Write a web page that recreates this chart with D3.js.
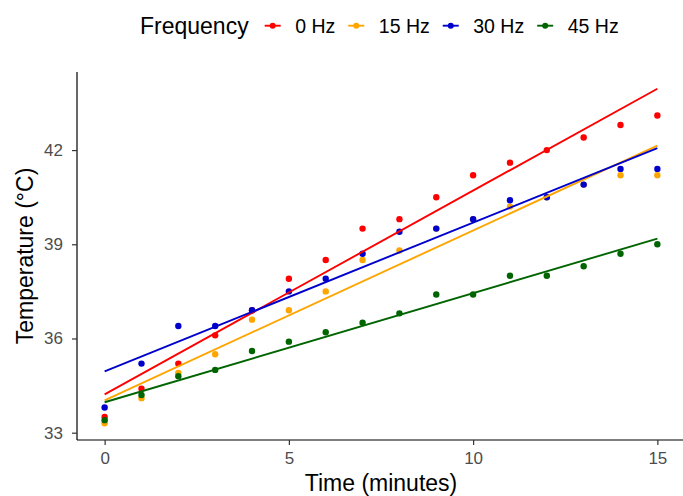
<!DOCTYPE html>
<html>
<head>
<meta charset="utf-8">
<script src="https://cdn.jsdelivr.net/npm/d3@7"></script>
<style>
    body { margin: 0; background: #fff; }
    svg { display: block; font-family: "Liberation Sans", Arial, sans-serif; }
    .tick text { fill: #4d4d4d; font-size: 17px; }
</style>
</head>
<body>
<svg class="chart" width="683" height="496"></svg>
<script>
// time points (minutes)
var minutes = [0, 1, 2, 3, 4, 5, 6, 7, 8, 9, 10, 11, 12, 13, 14, 15];

// legend groups
var frequencies = ['0 Hz', '15 Hz', '30 Hz', '45 Hz'];

// measured temperatures for each frequency
var temp0Hz  = [33.5, 34.4, 35.2, 36.1, 36.9, 37.9, 38.5, 39.5, 39.8, 40.5, 41.2, 41.6, 42.0, 42.4, 42.8, 43.1];
var temp15Hz = [33.3, 34.1, 34.9, 35.5, 36.6, 36.9, 37.5, 38.5, 38.8, 39.5, 39.8, 40.2, 40.5, 40.9, 41.2, 41.2];
var temp30Hz = [33.8, 35.2, 36.4, 36.4, 36.9, 37.5, 37.9, 38.7, 39.4, 39.5, 39.8, 40.4, 40.5, 40.9, 41.4, 41.4];
var temp45Hz = [33.4, 34.2, 34.8, 35.0, 35.6, 35.9, 36.2, 36.5, 36.8, 37.4, 37.4, 38.0, 38.0, 38.3, 38.7, 39.0];

// axis ticks
var xTicks = [0, 5, 10, 15];
var yTicks = [33, 36, 39, 42];

(function () {
    var colors = ['#ff0000', '#ffa500', '#0000cd', '#006400'];
    var seriesValues = [temp0Hz, temp15Hz, temp30Hz, temp45Hz];

    var margin = { left: 77, right: 0, top: 72, bottom: 56 };
    var width = 683, height = 496;

    var svg = d3.select('.chart');

    // least squares line for one series
    function fit(values) {
        var mx = d3.mean(minutes), my = d3.mean(values);
        var sxy = d3.sum(minutes, function (t, i) { return (t - mx) * (values[i] - my); });
        var sxx = d3.sum(minutes, function (t) { return (t - mx) * (t - mx); });
        var b = sxy / sxx;
        return { a: my - b * mx, b: b };
    }

    var tMin = d3.min(minutes), tMax = d3.max(minutes);

    var series = frequencies.map(function (f, i) {
        var m = fit(seriesValues[i]);
        return {
            name: f,
            color: colors[i],
            points: minutes.map(function (t, j) { return { t: t, v: seriesValues[i][j] }; }),
            model: m,
            ends: [m.a + m.b * tMin, m.a + m.b * tMax]
        };
    });

    // ggplot-style 5% expansion around everything that is drawn
    function expand(ext) {
        var pad = (ext[1] - ext[0]) * 0.05;
        return [ext[0] - pad, ext[1] + pad];
    }
    var allY = d3.merge(seriesValues.concat(series.map(function (s) { return s.ends; })));

    var x = d3.scaleLinear().domain(expand([tMin, tMax])).range([margin.left, 685]);
    var y = d3.scaleLinear().domain(expand(d3.extent(allY))).range([height - margin.bottom, margin.top]);

    // points, one layer per group
    series.forEach(function (s) {
        svg.append('g').selectAll('circle')
            .data(s.points)
            .enter().append('circle')
                .attr('cx', function (d) { return x(d.t); })
                .attr('cy', function (d) { return y(d.v); })
                .attr('r', 3.2)
                .attr('fill', s.color);
    });

    // fitted lines
    series.forEach(function (s) {
        svg.append('line')
            .attr('x1', x(tMin)).attr('y1', y(s.ends[0]))
            .attr('x2', x(tMax)).attr('y2', y(s.ends[1]))
            .attr('stroke', s.color)
            .attr('stroke-width', 1.9);
    });

    // axes
    var xAxis = svg.append('g')
        .attr('transform', 'translate(0,' + (height - margin.bottom) + ')')
        .call(d3.axisBottom(x).tickValues(xTicks).tickSize(5).tickPadding(7));
    var yAxis = svg.append('g')
        .attr('transform', 'translate(' + margin.left + ',0)')
        .call(d3.axisLeft(y).tickValues(yTicks).tickSize(5).tickPadding(9));

    [xAxis, yAxis].forEach(function (ax) {
        ax.attr('font-family', null).attr('font-size', null);
        ax.select('.domain').attr('stroke', '#000').attr('stroke-width', 1.2);
        ax.selectAll('.tick line').attr('stroke', '#333').attr('stroke-width', 1.2);
    });
    xAxis.select('.domain').attr('d', 'M' + margin.left + ',0H' + width);
    yAxis.select('.domain').attr('d', 'M0,' + margin.top + 'V' + (height - margin.bottom));

    // axis titles
    svg.append('text')
        .attr('x', (margin.left + 685) / 2)
        .attr('y', 491)
        .attr('text-anchor', 'middle')
        .attr('font-size', 23)
        .text('Time (minutes)');

    svg.append('text')
        .attr('transform', 'translate(32.5,' + (margin.top + height - margin.bottom) / 2 + ') rotate(-90)')
        .attr('text-anchor', 'middle')
        .attr('font-size', 23)
        .text('Temperature (°C)');

    // legend, laid out left to right
    var legend = svg.append('g').attr('transform', 'translate(0,25.7)');
    var title = legend.append('text')
        .attr('x', 140).attr('dy', '0.35em')
        .attr('font-size', 23)
        .text('Frequency');

    var cx = 140 + title.node().getComputedTextLength() + 24;
    series.forEach(function (s) {
        var g = legend.append('g').attr('transform', 'translate(' + cx + ',0)');
        g.append('line').attr('x1', -8).attr('x2', 8).attr('stroke', s.color).attr('stroke-width', 1.9);
        g.append('circle').attr('r', 3).attr('fill', s.color);
        var label = g.append('text').attr('x', 22.5).attr('dy', '0.35em').attr('font-size', 19.5).text(s.name);
        cx += 22.5 + label.node().getComputedTextLength() + 21;
    });
}());
</script>
</body>
</html>
